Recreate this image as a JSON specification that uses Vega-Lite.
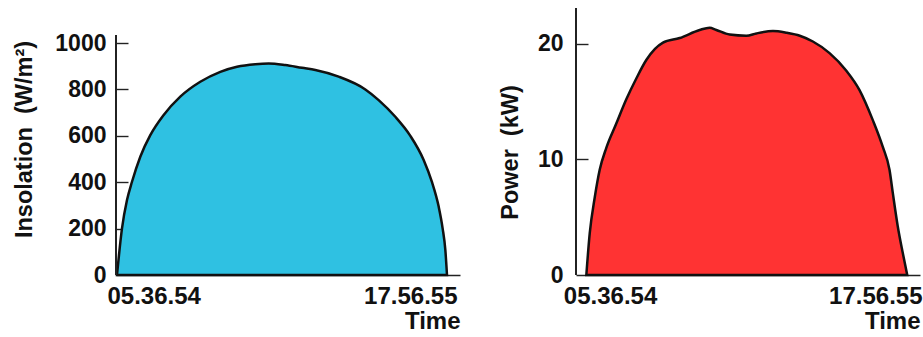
{
  "$schema": "https://vega.github.io/schema/vega-lite/v6.json",
  "padding": {"left": 11, "top": 7, "right": 0, "bottom": 0},
  "spacing": 38,
  "background": "white",
  "config": {
    "view": {"stroke": null},
    "font": "Liberation Sans",
    "axis": {
      "domainColor": "#222", "domainWidth": 1.6,
      "tickColor": "#222", "tickWidth": 1.4,
      "labelFont": "Liberation Sans", "labelFontWeight": "bold", "labelFontSize": 23, "labelColor": "#111",
      "titleFont": "Liberation Sans", "titleFontWeight": "bold", "titleFontSize": 23.5, "titleColor": "#111",
      "grid": false, "zindex": 1
    }
  },
  "datasets": {
    "insolation": [
      {"t": 5.615, "v": 0}, {"t": 5.802, "v": 201}, {"t": 5.989, "v": 323}, {"t": 6.176, "v": 402},
      {"t": 6.486, "v": 510}, {"t": 6.86, "v": 603}, {"t": 7.36, "v": 690}, {"t": 7.981, "v": 769},
      {"t": 8.728, "v": 833}, {"t": 9.476, "v": 876}, {"t": 10.1, "v": 898}, {"t": 10.785, "v": 909},
      {"t": 11.284, "v": 912}, {"t": 11.907, "v": 905}, {"t": 12.53, "v": 893},
      {"t": 13.028, "v": 884}, {"t": 13.9, "v": 855}, {"t": 14.897, "v": 800}, {"t": 15.395, "v": 754},
      {"t": 16.018, "v": 682}, {"t": 16.579, "v": 600}, {"t": 17.077, "v": 496}, {"t": 17.389, "v": 400},
      {"t": 17.638, "v": 295}, {"t": 17.787, "v": 200}, {"t": 17.887, "v": 108}, {"t": 17.949, "v": 0}
    ],
    "power": [
      {"t": 5.615, "p": 0}, {"t": 5.745, "p": 3.6}, {"t": 5.937, "p": 6.7}, {"t": 6.128, "p": 9.1},
      {"t": 6.381, "p": 11.0}, {"t": 6.764, "p": 13.1}, {"t": 7.148, "p": 15.2}, {"t": 7.531, "p": 17.0},
      {"t": 7.914, "p": 18.6}, {"t": 8.554, "p": 20.1}, {"t": 9.194, "p": 20.5}, {"t": 9.96, "p": 21.2},
      {"t": 10.343, "p": 21.4}, {"t": 10.6, "p": 21.2}, {"t": 11.111, "p": 20.8}, {"t": 11.75, "p": 20.7},
      {"t": 12.133, "p": 20.9}, {"t": 12.772, "p": 21.1}, {"t": 13.3, "p": 20.95}, {"t": 13.8, "p": 20.7},
      {"t": 14.301, "p": 20.2}, {"t": 14.941, "p": 19.2}, {"t": 15.577, "p": 17.7}, {"t": 16.09, "p": 16.0},
      {"t": 16.6, "p": 13.4}, {"t": 16.98, "p": 11.1}, {"t": 17.24, "p": 9.1}, {"t": 17.366, "p": 7.1},
      {"t": 17.557, "p": 4.2}, {"t": 17.749, "p": 1.9}, {"t": 17.92, "p": 0}
    ]
  },
  "hconcat": [
    {
      "width": 344,
      "height": 267,
      "data": {"name": "insolation"},
      "layer": [
        {
          "mark": {"type": "area", "color": "#2FC1E2", "stroke": "#111", "strokeWidth": 2.5, "interpolate": "monotone"},
          "encoding": {
            "x": {
              "field": "t", "type": "quantitative",
              "scale": {"domain": [5.578, 18.435], "nice": false, "zero": false},
              "axis": {
                "values": [5.615, 17.949],
                "ticks": false,
                "labelExpr": "datum.value < 10 ? '05.36.54' : '17.56.55'",
                "labelAlign": {"condition": {"test": "datum.value < 10", "value": "left"}, "value": "right"},
                "labelOffset": {"condition": {"test": "datum.value < 10", "value": -10}, "value": 10},
                "labelFontSize": 24,
                "labelPadding": 9,
                "title": "Time",
                "titleAnchor": "end",
                "titleFontSize": 24,
                "titlePadding": 1
              }
            },
            "y": {
              "field": "v", "type": "quantitative",
              "scale": {"domain": [0, 1151], "nice": false},
              "axis": {
                "values": [0, 200, 400, 600, 800, 1000],
                "format": "d",
                "domain": false,
                "offset": -12,
                "tickSize": 12,
                "tickColor": {"condition": {"test": "datum.value == 0", "value": "transparent"}, "value": "#222"},
                "labelPadding": 10,
                "title": "Insolation\u00a0 (W/m²)",
                "titleX": -104,
                "titleY": 131,
                "titleAngle": -90,
                "titleAlign": "center",
                "titleBaseline": "middle"
              }
            }
          }
        },
        {
          "mark": {"type": "rule", "color": "#222", "strokeWidth": 1.6},
          "encoding": {
            "x": {"datum": 5.578},
            "y": {"datum": 0},
            "y2": {"datum": 1034}
          }
        }
      ]
    },
    {
      "width": 344,
      "height": 267,
      "data": {"name": "power"},
      "layer": [
        {
          "mark": {"type": "area", "color": "#FF3333", "stroke": "#111", "strokeWidth": 2.5, "interpolate": "monotone"},
          "encoding": {
            "x": {
              "field": "t", "type": "quantitative",
              "scale": {"domain": [5.219, 18.409], "nice": false, "zero": false},
              "axis": {
                "values": [5.615, 17.949],
                "ticks": false,
                "labelExpr": "datum.value < 10 ? '05.36.54' : '17.56.55'",
                "labelAlign": {"condition": {"test": "datum.value < 10", "value": "left"}, "value": "right"},
                "labelOffset": {"condition": {"test": "datum.value < 10", "value": -23}, "value": 14},
                "labelFontSize": 24,
                "labelPadding": 9,
                "title": "Time",
                "titleAnchor": "end",
                "titleFontSize": 24,
                "titlePadding": 1
              }
            },
            "y": {
              "field": "p", "type": "quantitative",
              "scale": {"domain": [0, 23.1], "nice": false},
              "axis": {
                "values": [0, 10, 20],
                "domain": false,
                "offset": -12,
                "tickSize": 12,
                "tickColor": {"condition": {"test": "datum.value == 0", "value": "transparent"}, "value": "#222"},
                "labelPadding": 13,
                "title": "Power\u00a0 (kW)",
                "titleX": -78,
                "titleY": 144,
                "titleAngle": -90,
                "titleAlign": "center",
                "titleBaseline": "middle"
              }
            }
          }
        },
        {
          "mark": {"type": "rule", "color": "#222", "strokeWidth": 1.6},
          "encoding": {
            "x": {"datum": 5.219},
            "y": {"datum": 0},
            "y2": {"datum": 23.1}
          }
        }
      ]
    }
  ]
}
